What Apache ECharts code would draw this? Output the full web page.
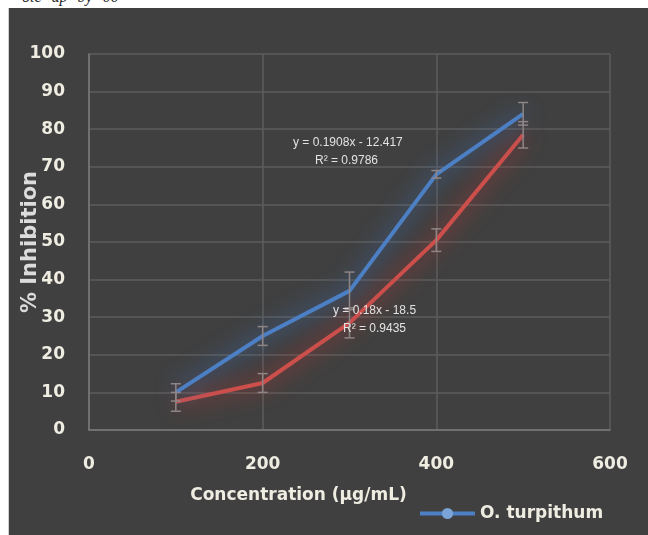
<!DOCTYPE html>
<html>
<head>
<meta charset="utf-8">
<script src="https://cdn.jsdelivr.net/npm/echarts@6/dist/echarts.min.js"></script>
<style>
  body { margin: 0; background: #fff; }
  #wrap { position: relative; width: 648px; height: 535px; overflow: hidden; background: #fff; }
  #panel { position: absolute; left: 8px; top: 8px; right: 0; bottom: 0; background: #404040; border-left: 1px solid #d0d0d0; }
  #cut { position: absolute; left: 22px; top: -12px; font: italic 16px "Liberation Serif", serif; color: #222; word-spacing: 6px; }
  #chart { position: absolute; left: 0; top: 0; width: 648px; height: 535px; }
</style>
</head>
<body>
<div id="wrap">
  <div id="cut">ote up by 00</div>
  <div id="panel"></div>
  <div id="chart"></div>
</div>
<script>
// concentrations (µg/mL)
var conc = [100, 200, 300, 400, 500]
// % inhibition, O. turpithum (blue) and second sample (red)
var blueVals = [10, 25, 37, 68, 84.1]
var blueErr = [2.3, 2.5, 5, 1, 3]
var redVals = [7.5, 12.5, 28.5, 50.5, 78.5]
var redErr = [2.5, 2.5, 4, 3, 3.5]
var blueEq = ['y = 0.1908x - 12.417', 'R² = 0.9786']
var redEq = ['y = 0.18x - 18.5', 'R² = 0.9435']

var lblColor = '#efece2'
var fontMain = 'DejaVu Sans'
var eqFont = '12px "Liberation Sans Narrow", "Liberation Sans", sans-serif'

function pairs (vals) {
  return conc.map(function (c, i) { return [c, vals[i]] })
}
function errData (vals, errs) {
  return conc.map(function (c, i) { return [c, vals[i] - errs[i], vals[i] + errs[i]] })
}
function renderErr (params, api) {
  var lo = api.coord([api.value(0), api.value(1)])
  var hi = api.coord([api.value(0), api.value(2)])
  var w = 5
  var st = { stroke: '#8f8585', lineWidth: 1.5 }
  return {
    type: 'group',
    children: [
      { type: 'line', shape: { x1: lo[0], y1: lo[1], x2: hi[0], y2: hi[1] }, style: st },
      { type: 'line', shape: { x1: lo[0] - w, y1: lo[1], x2: lo[0] + w, y2: lo[1] }, style: st },
      { type: 'line', shape: { x1: hi[0] - w, y1: hi[1], x2: hi[0] + w, y2: hi[1] }, style: st }
    ]
  }
}

var chart = echarts.init(document.getElementById('chart'))
chart.setOption({
  animation: false,
  backgroundColor: 'transparent',
  grid: { left: 89, right: 38, top: 54, bottom: 105, containLabel: false, outerBoundsMode: 'none' },
  legend: {
    data: ['O. turpithum'],
    left: 413,
    top: 500,
    itemWidth: 55,
    itemHeight: 14,
    itemGap: 4,
    lineStyle: { width: 4 },
    textStyle: { color: lblColor, fontFamily: fontMain, fontWeight: 'bold', fontSize: 17 }
  },
  xAxis: {
    type: 'value',
    min: 0,
    max: 600,
    interval: 200,
    name: 'Concentration (µg/mL)',
    nameLocation: 'middle',
    nameGap: 57,
    nameMoveOverlap: false,
    nameTextStyle: { color: lblColor, fontFamily: fontMain, fontWeight: 'bold', fontSize: 17, padding: [0, 102, 0, 0] },
    axisLine: { lineStyle: { color: '#7a7a7a', width: 1.5 } },
    axisTick: { show: false },
    axisLabel: { color: lblColor, fontFamily: fontMain, fontWeight: 'bold', fontSize: 17, margin: 26 },
    splitLine: { show: true, lineStyle: { color: '#5c5c5c', width: 1.5 } }
  },
  yAxis: {
    type: 'value',
    min: 0,
    max: 100,
    interval: 10,
    name: '% Inhibition',
    nameLocation: 'middle',
    nameGap: 48,
    nameMoveOverlap: false,
    nameTextStyle: { color: '#dcdcdc', fontFamily: fontMain, fontWeight: 'bold', fontSize: 21 },
    axisLine: { show: true, lineStyle: { color: '#7a7a7a', width: 1.5 } },
    axisTick: { show: false },
    axisLabel: { color: lblColor, fontFamily: fontMain, fontWeight: 'bold', fontSize: 17, margin: 24 },
    splitLine: { show: true, lineStyle: { color: '#5c5c5c', width: 1.5 } }
  },
  series: [
    {
      name: 'red',
      type: 'line',
      data: pairs(redVals),
      showSymbol: false,
      symbol: 'none',
      z: 3,
      lineStyle: { color: '#cc4f4b', width: 4, shadowBlur: 22, shadowColor: 'rgba(220,55,50,0.95)' },
      itemStyle: { color: '#cc4f4b' }
    },
    {
      name: 'O. turpithum',
      type: 'line',
      data: pairs(blueVals),
      showSymbol: false,
      symbol: 'circle',
      symbolSize: 9,
      z: 4,
      lineStyle: { color: '#4c7fc4', width: 4, shadowBlur: 22, shadowColor: 'rgba(60,125,215,0.95)' },
      itemStyle: { color: '#7aa3d8' }
    },
    {
      type: 'custom',
      name: 'redErr',
      data: errData(redVals, redErr),
      renderItem: renderErr,
      z: 5,
      encode: { x: 0, y: [1, 2] }
    },
    {
      type: 'custom',
      name: 'blueErr',
      data: errData(blueVals, blueErr),
      renderItem: renderErr,
      z: 5,
      encode: { x: 0, y: [1, 2] }
    }
  ],
  graphic: [
    { type: 'text', left: 293, top: 137, z: 10, style: { text: blueEq[0], fill: '#e2e2e2', font: eqFont } },
    { type: 'text', left: 315, top: 155, z: 10, style: { text: blueEq[1], fill: '#e2e2e2', font: eqFont } },
    { type: 'text', left: 333, top: 305, z: 10, style: { text: redEq[0], fill: '#e2e2e2', font: eqFont } },
    { type: 'text', left: 343, top: 323, z: 10, style: { text: redEq[1], fill: '#e2e2e2', font: eqFont } }
  ]
})
</script>
</body>
</html>
